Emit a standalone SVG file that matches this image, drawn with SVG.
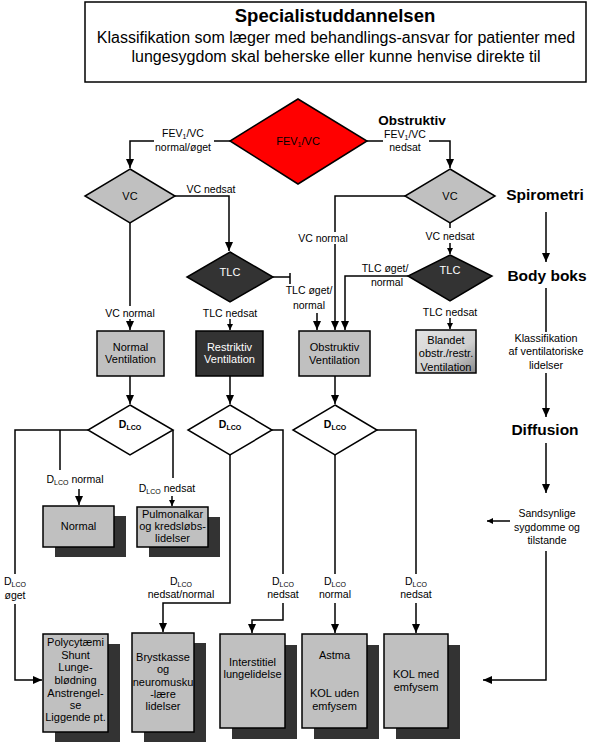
<svg xmlns="http://www.w3.org/2000/svg" width="590" height="742" viewBox="0 0 590 742">
<defs>
<style>
text{font-family:"Liberation Sans",Arial,sans-serif;fill:#000}
.t{font-size:10.5px;text-anchor:middle}
.bx{font-size:11px;text-anchor:middle}
.big{font-size:15.5px;font-weight:bold;text-anchor:middle}
.ln{fill:none;stroke:#000;stroke-width:1.5}
.ar{marker-end:url(#ah)}
.sar{marker-end:url(#sh)}
.box{fill:#c0c0c0;stroke:#000;stroke-width:1.5}
.dk{fill:#333;stroke:#000;stroke-width:1.5}
.sh{fill:#333}
.wd{fill:#fff;stroke:#000;stroke-width:1.5}
.gd{fill:#c0c0c0;stroke:#000;stroke-width:1.5}
.bg{fill:#fff}
.sub{font-size:7px}
</style>
<marker id="ah" markerUnits="userSpaceOnUse" markerWidth="10" markerHeight="10" refX="9" refY="4" orient="auto"><path d="M0,0 L9,4 L0,8 z" fill="#000"/></marker>
<marker id="sh" markerUnits="userSpaceOnUse" markerWidth="8" markerHeight="8" refX="6" refY="3" orient="auto"><path d="M0,0 L6,3 L0,6 z" fill="#000"/></marker>
<linearGradient id="gr" x1="0" y1="0" x2="1" y2="1"><stop offset="0" stop-color="#e4e4e4"/><stop offset="0.6" stop-color="#cfcfcf"/><stop offset="1" stop-color="#8a8a8a"/></linearGradient>
</defs>

<g id="title">
<rect x="85" y="2" width="501" height="80" fill="#fff" stroke="#000" stroke-width="1.5"/>
<text x="335" y="22" style="font-size:18.5px;font-weight:bold;text-anchor:middle">Specialistuddannelsen</text>
<text x="336" y="43" style="font-size:16px;text-anchor:middle">Klassifikation som læger med behandlings-ansvar for patienter med</text>
<text x="336" y="62" style="font-size:16px;text-anchor:middle">lungesygdom skal beherske eller kunne henvise direkte til</text>
</g>

<g id="connectors">
<path class="ln ar" d="M230,141 H130 V168"/>
<path class="ln ar" d="M367,141 H450 V168"/>
<path class="ln ar" d="M175,196 H229 V251"/>
<path class="ln ar" d="M130,223 V330"/>
<path class="ln sar" d="M230,319 V330"/>
<path class="ln" d="M273,277 H290 M290,273 V284"/>
<path class="ln ar" d="M317,313 V330"/>
<path class="ln ar" d="M405,196 H335 V330"/>
<path class="ln" d="M450,223 V228"/>
<path class="ln sar" d="M450,243 V254"/>
<path class="ln ar" d="M408,276 H345 V330"/>
<path class="ln sar" d="M450,318 V329"/>
<path class="ln ar" d="M130,376 V404"/>
<path class="ln ar" d="M230,376 V404"/>
<path class="ln ar" d="M335,376 V404"/>
<path class="ln ar" d="M88,430 H15 V680 H42"/>
<path class="ln" d="M60,430 V470"/>
<path class="ln ar" d="M79,489 V505"/>
<path class="ln" d="M173,430 V478"/>
<path class="ln sar" d="M172,496 V506"/>
<path class="ln ar" d="M230,455 V603 H163 V632"/>
<path class="ln ar" d="M272,430 H283 V620 H252 V633"/>
<path class="ln ar" d="M335,455 V633"/>
<path class="ln ar" d="M377,430 H416 V633"/>
<path class="ln ar" d="M546,212 V262"/>
<path class="ln" d="M546,288 V332"/>
<path class="ln ar" d="M546,373 V417"/>
<path class="ln ar" d="M546,443 V493"/>
<path class="ln sar" d="M510,521 H487"/>
<path class="ln ar" d="M546,551 V680 H483"/>
</g>

<g id="labels">
<rect class="bg" x="154" y="126" width="60" height="27"/>
<text class="t" x="183" y="137">FEV<tspan class="sub" dy="2">1</tspan><tspan dy="-2">/VC</tspan></text>
<text class="t" x="183" y="151">normal/øget</text>
<text x="412" y="125" style="font-size:13.5px;font-weight:bold;text-anchor:middle">Obstruktiv</text>
<rect class="bg" x="383" y="128" width="46" height="27"/>
<text class="t" x="405" y="138">FEV<tspan class="sub" dy="2">1</tspan><tspan dy="-2">/VC</tspan></text>
<text class="t" x="405" y="151">nedsat</text>
<text class="t" x="211" y="193">VC nedsat</text>
<rect class="bg" x="100" y="306" width="60" height="13"/>
<text class="t" x="130" y="317">VC normal</text>
<text class="t" x="230" y="317">TLC nedsat</text>
<text class="t" x="309" y="294">TLC øget/</text>
<text class="t" x="309" y="309">normal</text>
<rect class="bg" x="296" y="232" width="56" height="12"/>
<text class="t" x="323" y="242">VC normal</text>
<text class="t" x="450" y="240">VC nedsat</text>
<text class="t" x="385" y="272">TLC øget/</text>
<text class="t" x="387" y="286">normal</text>
<text class="t" x="450" y="316">TLC nedsat</text>
<text class="t" x="75" y="483">D<tspan class="sub" dy="2">LCO</tspan><tspan dy="-2"> normal</tspan></text>
<text class="t" x="167" y="492">D<tspan class="sub" dy="2">LCO</tspan><tspan dy="-2"> nedsat</tspan></text>
<rect class="bg" x="3" y="574" width="24" height="30"/>
<text class="t" x="15" y="585">D<tspan class="sub" dy="2">LCO</tspan></text>
<text class="t" x="15" y="599">øget</text>
<text class="t" x="181" y="585">D<tspan class="sub" dy="2">LCO</tspan></text>
<text class="t" x="181" y="598">nedsat/normal</text>
<rect class="bg" x="267" y="574" width="32" height="29"/>
<text class="t" x="283" y="585">D<tspan class="sub" dy="2">LCO</tspan></text>
<text class="t" x="283" y="598">nedsat</text>
<rect class="bg" x="318" y="574" width="34" height="29"/>
<text class="t" x="335" y="585">D<tspan class="sub" dy="2">LCO</tspan></text>
<text class="t" x="335" y="598">normal</text>
<rect class="bg" x="399" y="574" width="34" height="29"/>
<text class="t" x="416" y="585">D<tspan class="sub" dy="2">LCO</tspan></text>
<text class="t" x="416" y="598">nedsat</text>
</g>

<g id="n-fev">
<polygon points="298,99 367,141 298,184 230,141" fill="#f00" stroke="#000" stroke-width="1.5"/>
<text class="bx" x="298" y="145">FEV<tspan class="sub" dy="2">1</tspan><tspan dy="-2">/VC</tspan></text>
</g>
<g id="n-vc-left">
<polygon points="130,169 175,196 130,223 85,196" class="gd"/>
<text class="bx" x="130" y="200">VC</text>
</g>
<g id="n-vc-right">
<polygon points="450,169 495,196 450,223 405,196" class="gd"/>
<text class="bx" x="450" y="200">VC</text>
</g>
<g id="n-tlc-left">
<polygon points="230,252 273,277 230,302 187,277" class="dk"/>
<text class="bx" x="230" y="276" style="fill:#fff">TLC</text>
</g>
<g id="n-tlc-right">
<polygon points="450,255 492,276 450,301 408,276" class="dk"/>
<text class="bx" x="450" y="274" style="fill:#fff">TLC</text>
</g>
<g id="n-normal-vent">
<rect x="97" y="331" width="67" height="45" class="box"/>
<text class="bx" x="130.5" y="351">Normal</text>
<text class="bx" x="130.5" y="363">Ventilation</text>
</g>
<g id="n-restriktiv">
<rect x="196" y="331" width="67" height="45" class="dk"/>
<text class="bx" x="229.5" y="351" style="fill:#fff">Restriktiv</text>
<text class="bx" x="229.5" y="363" style="fill:#fff">Ventilation</text>
</g>
<g id="n-obstruktiv">
<rect x="299" y="331" width="71" height="45" class="box"/>
<text class="bx" x="334.5" y="351">Obstruktiv</text>
<text class="bx" x="334.5" y="364">Ventilation</text>
</g>
<g id="n-blandet">
<rect x="416" y="330" width="60" height="43" fill="url(#gr)" stroke="#000" stroke-width="1.5"/>
<text class="bx" x="446" y="344">Blandet</text>
<text class="bx" x="446" y="357">obstr./restr.</text>
<text class="bx" x="446" y="371">Ventilation</text>
</g>
<g id="n-dlco1">
<polygon points="130,405 173,430 130,455 88,430" class="wd"/>
<text x="130" y="428" style="font-size:10.5px;font-weight:bold;text-anchor:middle">D<tspan class="sub" dy="2">LCO</tspan></text>
</g>
<g id="n-dlco2">
<polygon points="230,405 272,430 230,455 188,430" class="wd"/>
<text x="230" y="428" style="font-size:10.5px;font-weight:bold;text-anchor:middle">D<tspan class="sub" dy="2">LCO</tspan></text>
</g>
<g id="n-dlco3">
<polygon points="335,405 377,430 335,455 293,430" class="wd"/>
<text x="335" y="428" style="font-size:10.5px;font-weight:bold;text-anchor:middle">D<tspan class="sub" dy="2">LCO</tspan></text>
</g>
<g id="n-normal">
<rect x="55" y="516" width="71" height="41" class="sh"/>
<rect x="43" y="506" width="71" height="41" class="box"/>
<text class="bx" x="78.5" y="530">Normal</text>
</g>
<g id="n-pulmonal">
<rect x="149" y="517" width="71" height="40" class="sh"/>
<rect x="137" y="507" width="71" height="40" class="box"/>
<text class="bx" x="172.5" y="518">Pulmonalkar</text>
<text class="bx" x="172.5" y="530">og kredsløbs-</text>
<text class="bx" x="172.5" y="542">lidelser</text>
</g>
<g id="n-polycyt">
<rect x="55" y="644" width="65" height="98" class="sh"/>
<rect x="43" y="634" width="65" height="98" class="box"/>
<text class="bx" x="75.5" y="646">Polycytæmi</text>
<text class="bx" x="75.5" y="659">Shunt</text>
<text class="bx" x="75.5" y="671">Lunge-</text>
<text class="bx" x="75.5" y="684">blødning</text>
<text class="bx" x="75.5" y="697">Anstrengel-</text>
<text class="bx" x="75.5" y="709">se</text>
<text class="bx" x="75.5" y="721">Liggende pt.</text>
</g>
<g id="n-brystkasse">
<rect x="144" y="643" width="62" height="99" class="sh"/>
<rect x="132" y="633" width="62" height="99" class="box"/>
<text class="bx" x="163" y="661">Brystkasse</text>
<text class="bx" x="163" y="673">og</text>
<text class="bx" x="163" y="686">neuromusku</text>
<text class="bx" x="163" y="698">-lære</text>
<text class="bx" x="163" y="710">lidelser</text>
</g>
<g id="n-interstitiel">
<rect x="232" y="645" width="65" height="94" class="sh"/>
<rect x="220" y="634" width="65" height="94" class="box"/>
<text class="bx" x="252.5" y="666">Interstitiel</text>
<text class="bx" x="252.5" y="678">lungelidelse</text>
</g>
<g id="n-astma">
<rect x="314" y="645" width="65" height="94" class="sh"/>
<rect x="302" y="634" width="65" height="94" class="box"/>
<text class="bx" x="334.5" y="659">Astma</text>
<text class="bx" x="334.5" y="697">KOL uden</text>
<text class="bx" x="334.5" y="710">emfysem</text>
</g>
<g id="n-kol">
<rect x="396" y="645" width="64" height="94" class="sh"/>
<rect x="384" y="634" width="64" height="94" class="box"/>
<text class="bx" x="416" y="678">KOL med</text>
<text class="bx" x="416" y="691">emfysem</text>
</g>

<g id="n-side">
<text class="big" x="545" y="200">Spirometri</text>
<text class="big" x="547" y="281">Body boks</text>
<text x="546" y="342" style="font-size:10.8px;text-anchor:middle">Klassifikation</text>
<text x="546" y="355" style="font-size:10.8px;text-anchor:middle">af ventilatoriske</text>
<text x="546" y="369" style="font-size:10.8px;text-anchor:middle">lidelser</text>
<text class="big" x="545" y="435">Diffusion</text>
<text x="547" y="517" style="font-size:10.5px;text-anchor:middle">Sandsynlige</text>
<text x="547" y="531" style="font-size:10.5px;text-anchor:middle">sygdomme og</text>
<text x="547" y="544" style="font-size:10.5px;text-anchor:middle">tilstande</text>
</g>
</svg>
